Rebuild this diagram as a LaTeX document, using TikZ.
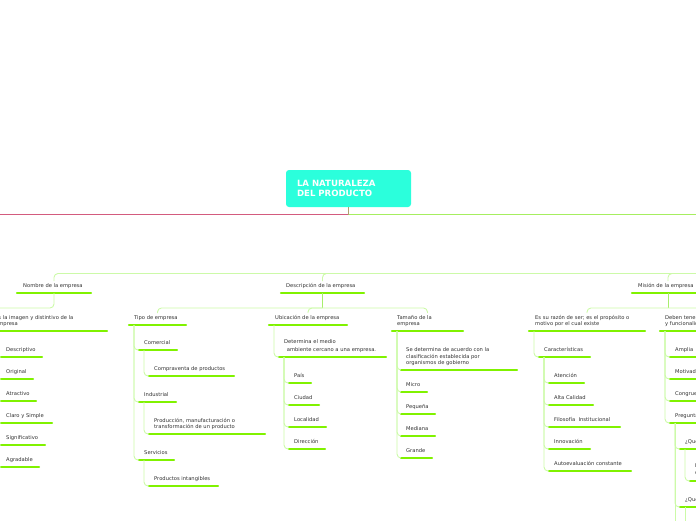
\documentclass[tikz,border=0pt]{standalone}
\usepackage{fontspec}
\setmainfont{DejaVu Sans}
\usetikzlibrary{calc}
\definecolor{ulc}{HTML}{80F200}
\definecolor{cnc}{HTML}{CCFAA8}
\definecolor{cnb}{HTML}{A8EE6C}
\definecolor{txt}{HTML}{303030}
\definecolor{rootc}{HTML}{2BFFDC}
\definecolor{pinkc}{HTML}{D35B7E}
\definecolor{greenl}{HTML}{A6EE60}
\definecolor{junc}{HTML}{B0A070}
\tikzset{
 lbl/.style={anchor=base west, inner sep=0pt, font=\fontsize{5.2}{6}\selectfont, text=txt},
 ul/.style={draw=ulc, line width=2.2pt, line cap=round},
 conn/.style={draw=cnc, line width=0.9pt, rounded corners=4pt},
 connb/.style={draw=cnb, line width=0.9pt},
 rootbox/.style={fill=rootc, rounded corners=3pt, minimum width=125pt, minimum height=37pt,
   text width=103pt, align=left, inner sep=0pt, text=white,
   font=\bfseries\fontsize{8.6}{10.4}\selectfont},
}
% name, x, y(center), ul x1, ul x2, ul y, text
\newcommand\tp[7]{%
 \node[lbl] (#1) at (#2,#3+1.9) {#7};
 \draw[ul] (#4,#6) coordinate (#1-l) -- (#5,#6) coordinate (#1-r);
 \path ({(#4+#5)/2},#6) coordinate (#1-m);}
\newcommand\xl[4]{\node[lbl] (#1) at (#2,#3+1.9) {#4};}
\begin{document}
\begin{tikzpicture}[x=1pt,y=-1pt]
\useasboundingbox (0,0) rectangle (696,520);
\clip (0,0) rectangle (696,520);

% root
\node[rootbox] (root) at (348.5,188.5) {LA NATURALEZA\\DEL PRODUCTO};
\coordinate (j) at (348.5,214.5);
\coordinate (wl) at (-5,214.5);
\coordinate (wr) at (705,214.5);
\draw[pinkc, line width=1.6pt] (j) -- (wl);
\draw[greenl, line width=1pt] (j) -- (wr);
\draw[junc, line width=1pt] (root.south) -- (j);

% main topics
\coordinate (hubR) at (720,273.5);
\tp{nombre}{23}{286}{17}{91}{293}{Nombre de la empresa}
\tp{desc}{286}{286}{281}{364}{293}{Descripción de la empresa}
\tp{mision}{638}{286}{632}{704}{293}{Misión de la empresa}
\foreach \n in {nombre,desc,mision} \draw[conn] ([yshift=12pt]\n-m) |- (hubR);

% Nombre branch
\coordinate (imgj) at (-20,308);
\draw[conn] (nombre-m) |- (imgj);
\tp{img}{-5}{317.7}{-9}{107}{331}{Es la imagen y distintivo de la}
\xl{img-b}{-5}{323.7}{empresa}
\tp{descr}{6}{350}{1}{42}{357}{Descriptivo}
\tp{orig}{6}{372}{1}{33}{379}{Original}
\tp{atrac}{6}{394}{1}{36}{401}{Atractivo}
\tp{claro}{6}{416}{1}{52}{423}{Claro y Simple}
\tp{signif}{6}{438}{1}{45}{445}{Significativo}
\tp{agrad}{6}{460}{1}{39}{467}{Agradable}
\foreach \c in {descr,orig,atrac,claro,signif,agrad} \draw[conn] ([xshift=5pt]img-l) |- (\c-l);

% Descripcion branch
\coordinate (descj) at (322.5,308);
\draw[connb] (desc-m) -- (descj);
\tp{tipo}{134}{318}{129}{186}{325}{Tipo de empresa}
\tp{ubic}{275}{318}{269}{347}{325}{Ubicación de la empresa}
\tp{tam}{397}{318}{392}{463}{331}{Tamaño de la}
\xl{tam-b}{397}{324}{empresa}
\draw[conn] (descj) -| ([yshift=12pt]tipo-m);
\draw[conn] (descj) -| ([yshift=12pt]ubic-m);
\draw[conn] (descj) -| ([yshift=18pt]tam-m);

% Tipo de empresa
\tp{com}{144}{343}{139}{177}{350}{Comercial}
\tp{compra}{154}{369}{149}{234}{376}{Compraventa de productos}
\tp{ind}{144}{395}{139}{176}{402}{Industrial}
\tp{prod}{154}{421}{149}{265}{434}{Producción, manufacturación o}
\xl{prod-b}{154}{427}{transformación de un producto}
\tp{serv}{144}{453}{139}{174}{460}{Servicios}
\tp{intang}{154}{479}{149}{218}{486}{Productos intangibles}
\foreach \c in {com,ind,serv} \draw[conn] ([xshift=5pt]tipo-l) |- (\c-l);
\draw[conn] ([xshift=5pt]com-l) |- (compra-l);
\draw[conn] ([xshift=5pt]ind-l) |- (prod-l);
\draw[conn] ([xshift=5pt]serv-l) |- (intang-l);

% Ubicacion
\tp{det}{284}{342}{279}{386}{357}{Determina el medio}
\xl{det-b}{285}{350}{\ ambiente cercano a una empresa.}
\draw[conn] ([xshift=5pt]ubic-l) |- (det-l);
\tp{pais}{294}{376}{289}{311}{383}{País}
\tp{ciudad}{294}{398}{289}{319}{405}{Ciudad}
\tp{local}{294}{420}{289}{326}{427}{Localidad}
\tp{direc}{294}{442}{289}{325}{449}{Dirección}
\foreach \c in {pais,ciudad,local,direc} \draw[conn] ([xshift=5pt]det-l) |- (\c-l);

% Tamano
\tp{sedet}{406}{350}{401}{517}{370}{Se determina de acuerdo con la}
\xl{sedet-b}{406}{356.5}{clasificación establecida por}
\xl{sedet-c}{406}{363}{organismos de gobierno}
\tp{micro}{406}{385}{401}{427}{392}{Micro}
\tp{peq}{406}{407}{401}{435}{414}{Pequeña}
\tp{med}{406}{429}{401}{435}{436}{Mediana}
\tp{grande}{406}{451}{401}{432}{458}{Grande}
\foreach \c in {sedet,micro,peq,med,grande} \draw[conn] ([xshift=5pt]tam-l) |- (\c-l);

% Mision branch
\coordinate (misj) at (668,308);
\draw[connb] (mision-m) -- (misj);
\tp{razon}{535}{318}{529}{645}{331}{Es su razón de ser; es el propósito o}
\xl{razon-b}{535}{324}{motivo por el cual existe}
\tp{deben}{665}{318}{660}{760}{331}{Deben tener}
\xl{deben-b}{665}{324}{y funcionalidad}
\draw[conn] (misj) -| ([yshift=18pt]razon-m);
\draw[conn] (misj) -| ([yshift=18pt]deben-m);

\tp{car}{544}{350}{539}{590}{357}{Características}
\draw[conn] ([xshift=5pt]razon-l) |- (car-l);
\tp{aten}{554}{376}{549}{584}{383}{Atención}
\tp{alta}{554}{398}{549}{593}{405}{Alta Calidad}
\tp{filo}{554}{420}{549}{620}{427}{Filosofía\ \ Institucional}
\tp{innov}{554}{442}{549}{590}{449}{Innovación}
\tp{auto}{554}{464}{549}{631}{471}{Autoevaluación constante}
\foreach \c in {aten,alta,filo,innov,auto} \draw[conn] ([xshift=5pt]car-l) |- (\c-l);

\tp{amplia}{675}{350}{670}{720}{357}{Amplia}
\tp{motiv}{675}{372}{670}{720}{379}{Motivadora}
\tp{congr}{675}{394}{670}{720}{401}{Congruente}
\tp{preg}{675}{416}{670}{720}{423}{Preguntas}
\foreach \c in {amplia,motiv,congr,preg} \draw[conn] ([xshift=5pt]deben-l) |- (\c-l);

\tp{qa}{685}{442}{680}{720}{449}{¿Qué}
\tp{qb}{685}{500}{680}{720}{507}{¿Qué}
\foreach \c in {qa,qb} \draw[conn] ([xshift=5pt]preg-l) |- (\c-l);
\coordinate (pregEnd) at (675,530);
\draw[conn] ([xshift=5pt]preg-l) -- (pregEnd);
\tp{na}{695}{466}{690}{720}{481}{N}
\xl{na-b}{695}{473}{c}
\draw[conn] ([xshift=5pt]qa-l) |- (na-l);
\coordinate (qbEnd) at (685,530);
\draw[conn] ([xshift=5pt]qb-l) -- (qbEnd);
\end{tikzpicture}
\end{document}
